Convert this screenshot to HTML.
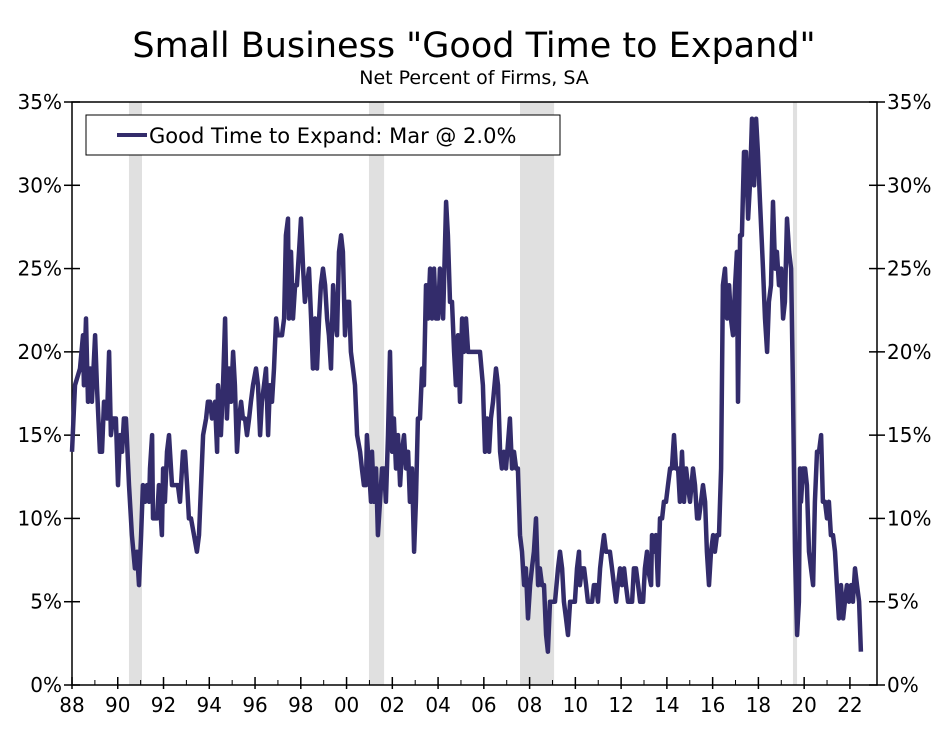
<!DOCTYPE html>
<html><head><meta charset="utf-8"><style>
body{margin:0;background:#fff;}
svg text{font-family:"DejaVu Sans","Liberation Sans",sans-serif;fill:#000;}
</style></head><body>
<svg id="chart" width="947" height="727" xmlns="http://www.w3.org/2000/svg">
<text x="474" y="57" font-size="35" text-anchor="middle">Small Business "Good Time to Expand"</text>
<text x="474" y="84" font-size="19" text-anchor="middle">Net Percent of Firms, SA</text>
<g id="bands"></g><g id="axes"></g><g id="series"></g>
<g>
<rect x="86" y="115" width="474" height="40" fill="#fff" stroke="#000" stroke-width="1"/>
<line x1="117" y1="135" x2="147" y2="135" stroke="#332c6b" stroke-width="4"/>
<text x="149" y="143" font-size="21">Good Time to Expand: Mar @ 2.0%</text>
</g>
</svg>
<script>
// years since Jan 1988
const t=[0,.13,.35,.48,.52,.61,.70,.79,.87,1.01,1.09,1.22,1.31,1.40,1.53,1.62,1.70,1.79,1.92,2.01,2.10,2.19,2.27,2.36,2.49,2.62,2.75,2.84,2.93,3.02,3.10,3.19,3.28,3.37,3.41,3.50,3.54,3.72,3.80,3.93,3.98,4.06,4.15,4.24,4.37,4.55,4.63,4.72,4.85,4.94,5.03,5.11,5.20,5.33,5.46,5.55,5.73,5.86,5.94,6.03,6.12,6.25,6.34,6.38,6.51,6.60,6.69,6.77,6.86,6.95,7.04,7.12,7.21,7.30,7.39,7.47,7.56,7.65,7.74,7.82,7.91,8.04,8.13,8.22,8.30,8.39,8.48,8.57,8.65,8.74,8.83,8.92,9.00,9.18,9.27,9.35,9.44,9.48,9.57,9.66,9.75,9.83,9.92,10.01,10.10,10.18,10.27,10.36,10.45,10.53,10.62,10.71,10.80,10.88,10.97,11.06,11.15,11.23,11.32,11.41,11.49,11.58,11.67,11.76,11.84,11.93,12.02,12.11,12.19,12.28,12.37,12.46,12.59,12.67,12.76,12.85,12.89,12.98,13.07,13.11,13.20,13.29,13.37,13.46,13.55,13.64,13.72,13.81,13.90,13.99,14.07,14.16,14.25,14.34,14.42,14.51,14.60,14.69,14.77,14.86,14.95,15.03,15.12,15.21,15.30,15.38,15.47,15.56,15.65,15.73,15.82,15.91,16.00,16.08,16.17,16.22,16.35,16.43,16.52,16.61,16.70,16.78,16.87,16.96,17.05,17.13,17.22,17.31,17.66,17.83,17.96,18.05,18.14,18.23,18.31,18.40,18.53,18.62,18.71,18.79,18.88,18.97,19.14,19.23,19.32,19.41,19.49,19.58,19.67,19.76,19.84,19.93,20.02,20.10,20.19,20.28,20.37,20.45,20.54,20.63,20.72,20.80,20.89,21.11,21.24,21.33,21.42,21.50,21.59,21.68,21.77,21.98,22.07,22.16,22.20,22.29,22.38,22.47,22.55,22.73,22.81,22.90,22.99,23.08,23.16,23.25,23.34,23.43,23.51,23.60,23.69,23.78,23.86,23.95,24.04,24.13,24.21,24.30,24.48,24.56,24.65,24.74,24.83,24.96,25.04,25.13,25.17,25.31,25.35,25.44,25.52,25.61,25.70,25.79,25.87,25.96,26.05,26.14,26.22,26.31,26.40,26.49,26.57,26.66,26.75,26.84,26.92,27.01,27.14,27.23,27.32,27.40,27.49,27.58,27.67,27.75,27.84,27.93,28.02,28.10,28.19,28.28,28.37,28.45,28.54,28.63,28.72,28.80,28.89,28.98,29.06,29.11,29.20,29.28,29.37,29.46,29.55,29.63,29.72,29.81,29.90,29.98,30.07,30.20,30.29,30.38,30.46,30.55,30.64,30.73,30.81,30.90,30.99,31.08,31.16,31.25,31.34,31.43,31.51,31.60,31.69,31.77,31.82,31.86,31.95,32.04,32.12,32.21,32.30,32.39,32.47,32.56,32.65,32.74,32.82,32.91,33.00,33.08,33.17,33.26,33.35,33.43,33.52,33.61,33.70,33.78,33.87,33.96,34.05,34.13,34.22,34.31,34.40,34.48];
const values=[14,18,19,21,18,22,17,19,17,21,18,14,14,17,16,20,15,16,16,12,15,14,16,16,12,9,7,8,6,9,12,11,12,11,13,15,10,10,12,9,13,11,14,15,12,12,12,11,14,14,12,10,10,9,8,9,15,16,17,17,16,17,14,18,15,18,22,16,19,17,20,18,14,16,17,16,16,15,16,17,18,19,18,15,17,18,19,15,18,17,19,22,21,21,22,27,28,22,26,22,24,24,26,28,25,23,24,25,22,19,22,19,22,24,25,24,22,21,19,24,22,21,26,27,26,21,23,23,20,19,18,15,14,13,12,12,15,13,11,14,11,13,9,11,13,13,11,15,20,14,16,13,15,12,14,15,13,14,11,13,8,11,16,16,19,18,24,22,25,22,25,22,22,25,23,22,29,27,23,23,20,18,21,17,22,20,22,20,20,20,18,14,16,14,16,17,19,18,14,13,14,13,16,13,14,13,13,9,8,6,7,4,6,7,8,10,6,7,6,6,3,2,5,5,7,8,7,5,4,3,5,5,7,8,6,7,7,6,5,5,6,6,5,7,8,9,8,8,8,7,6,5,6,7,6,7,6,5,5,7,7,6,5,5,7,8,7,6,9,8,9,6,10,10,11,11,12,13,13,15,13,13,11,14,11,13,12,11,13,12,10,10,11,12,11,8,6,8,9,8,9,9,13,24,25,22,24,22,21,24,26,17,27,27,32,32,28,30,34,30,34,32,29,25,22,20,23,24,29,25,26,24,25,22,23,28,26,25,18,8,3,5,13,11,13,13,12,8,7,6,11,14,14,15,11,11,10,11,9,9,8,6,4,6,4,5,6,5,6,5,7,6,5,2];
const recStart=[2.49,12.98,19.58,31.51];
const recEnd=[3.06,13.64,21.07,31.69];
const yTicks=[0,5,10,15,20,25,30,35];
const xTickLabels=['88','90','92','94','96','98','00','02','04','06','08','10','12','14','16','18','20','22'];

const NS='http://www.w3.org/2000/svg';
const L=72,R=877,T=102,B=685;
const xs=v=>L+v*22.88;
const ys=v=>B-(v/35)*(B-T);
function mk(tag,attrs,parent){const e=document.createElementNS(NS,tag);for(const k in attrs)e.setAttribute(k,attrs[k]);parent.appendChild(e);return e;}
const bands=document.getElementById('bands'),axes=document.getElementById('axes'),series=document.getElementById('series');
recStart.forEach((s,i)=>{
  const r=mk('rect',{x:xs(s),y:T,width:xs(recEnd[i])-xs(s),height:B-T,fill:'#e0e0e0'},bands);
  
  
});
const frame=mk('rect',{x:L,y:T,width:R-L,height:B-T,fill:'none',stroke:'#000','stroke-width':1.5},axes);


yTicks.forEach(v=>{
  const y=ys(v);
  mk('line',{x1:L-8,y1:y,x2:L+8,y2:y,stroke:'#000','stroke-width':1.5},axes);
  mk('line',{x1:R-8,y1:y,x2:R+8,y2:y,stroke:'#000','stroke-width':1.5},axes);
  const a=mk('text',{x:L-10,y:y+7,'font-size':20,'text-anchor':'end'},axes);a.textContent=v+'%';
  
  
  const b=mk('text',{x:R+10,y:y+7,'font-size':20,'text-anchor':'start'},axes);b.textContent=v+'%';
  
  
});
xTickLabels.forEach((lab,i)=>{
  const x=xs(i*2);
  mk('line',{x1:x,y1:B-8,x2:x,y2:B+4,stroke:'#000','stroke-width':1.5},axes);
  if(i<17) mk('line',{x1:xs(i*2+1),y1:B-5,x2:xs(i*2+1),y2:B,stroke:'#000','stroke-width':1},axes);
  const tx=mk('text',{x:x,y:B+27,'font-size':20,'text-anchor':'middle'},axes);tx.textContent=lab;
  
  
});
const d=values.map((v,i)=>(i?'L':'M')+xs(t[i]).toFixed(1)+','+ys(v).toFixed(1)).join('');
const p=mk('path',{d:d,fill:'none',stroke:'#332c6b','stroke-width':4.5,'stroke-linejoin':'round'},series);


</script>
</body></html>
